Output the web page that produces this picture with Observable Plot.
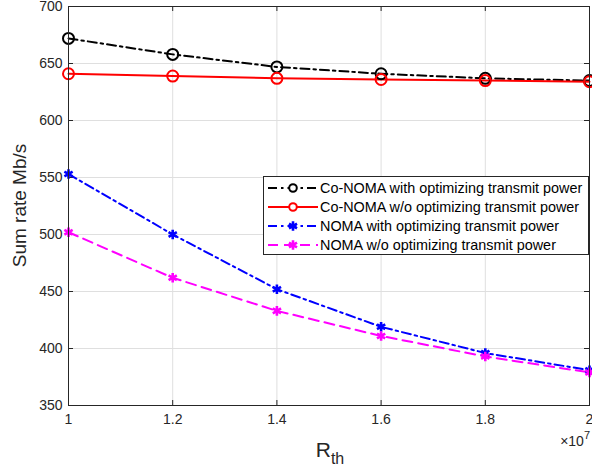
<!DOCTYPE html>
<html>
<head>
<meta charset="utf-8">
<script src="https://cdn.jsdelivr.net/npm/d3@7"></script>
<script src="https://cdn.jsdelivr.net/npm/@observablehq/plot@0.6"></script>
<style>
  html, body { margin: 0; padding: 0; background: #fff; }
  svg { font-family: "Liberation Sans", Arial, sans-serif; }
</style>
</head>
<body>
<div id="chart"></div>
<script>
const rth = [1.0, 1.2, 1.4, 1.6, 1.8, 2.0];
const coNomaOpt = [672, 658, 647, 641, 637, 635];
const coNomaFixed = [641, 639, 637, 636, 635, 634];
const nomaOpt = [553, 500, 452, 419, 396, 381];
const nomaFixed = [502, 462, 433, 411, 393, 379];
const xTicks = [1, 1.2, 1.4, 1.6, 1.8, 2];
const xTickLabels = ["1", "1.2", "1.4", "1.6", "1.8", "2"];
const yTicks = [350, 400, 450, 500, 550, 600, 650, 700];

const seriesNames = [
  "Co-NOMA with optimizing transmit power",
  "Co-NOMA w/o optimizing transmit power",
  "NOMA with optimizing transmit power",
  "NOMA w/o optimizing transmit power"
];
const seriesValues = [coNomaOpt, coNomaFixed, nomaOpt, nomaFixed];
const seriesStyle = [
  {color: "#000000", dash: "9,4,2.5,4", symbol: "circle"},
  {color: "#ff0000", dash: null, symbol: "circle"},
  {color: "#0000ff", dash: "9,4,2.5,4", symbol: "asterisk"},
  {color: "#ff00ff", dash: "10,6", symbol: "asterisk"}
];

const W = 592, H = 474;
const mL = 68, mR = 3, mT = 6, mB = 69;
const tickLenX = 5 / (W - mL - mR) * 1;       // 5px in x units
const tickLenY = 5 / (H - mT - mB) * 350;     // 5px in y units

const marks = [
  Plot.gridX(xTicks, {stroke: "#dfdfdf", strokeOpacity: 1, strokeWidth: 1}),
  Plot.gridY(yTicks, {stroke: "#dfdfdf", strokeOpacity: 1, strokeWidth: 1}),
  Plot.axisX(xTicks, {tickSize: 0, tickPadding: 9, fontSize: 14, fill: "#262626",
    tickFormat: (d, i) => xTickLabels[i]}),
  Plot.axisY(yTicks, {tickSize: 0, tickPadding: 6, fontSize: 14, fill: "#262626", label: null}),
  // inward ticks on all four sides
  Plot.ruleX(xTicks, {y1: 350, y2: 350 + tickLenY, stroke: "#262626"}),
  Plot.ruleX(xTicks, {y1: 700, y2: 700 - tickLenY, stroke: "#262626"}),
  Plot.ruleY(yTicks, {x1: 1, x2: 1 + tickLenX, stroke: "#262626"}),
  Plot.ruleY(yTicks, {x1: 2, x2: 2 - tickLenX, stroke: "#262626"}),
];

seriesValues.forEach((vals, si) => {
  const data = rth.map((x, i) => ({x, y: vals[i]}));
  const st = seriesStyle[si];
  marks.push(Plot.line(data, {x: "x", y: "y", stroke: st.color, strokeWidth: 2,
    strokeDasharray: st.dash, curve: "linear"}));
});
seriesValues.forEach((vals, si) => {
  const data = rth.map((x, i) => ({x, y: vals[i]}));
  const st = seriesStyle[si];
  if (st.symbol === "circle") {
    marks.push(Plot.dot(data, {x: "x", y: "y", r: 5.5, stroke: st.color, strokeWidth: 2, fill: "none", symbol: "circle"}));
  } else {
    marks.push(Plot.dot(data, {x: "x", y: "y", r: 4.5, stroke: st.color, strokeWidth: 2.6, symbol: "asterisk"}));
  }
});
marks.push(Plot.frame({stroke: "#262626", strokeWidth: 1}));

const chart = Plot.plot({
  width: W, height: H,
  marginLeft: mL, marginRight: mR, marginTop: mT, marginBottom: mB,
  x: {domain: [1, 2], label: null},
  y: {domain: [350, 700], label: null},
  style: {fontFamily: "'Liberation Sans', Arial, sans-serif", background: "#fff"},
  marks
});
document.getElementById("chart").appendChild(chart);

const svg = d3.select(chart);
// y label
svg.append("text")
  .attr("transform", `translate(26,${(mT + H - mB) / 2}) rotate(-90)`)
  .attr("text-anchor", "middle")
  .attr("font-size", 19).attr("fill", "#262626")
  .text("Sum rate Mb/s");
// x label R_th
const xl = svg.append("text")
  .attr("x", 330).attr("y", 457)
  .attr("text-anchor", "middle")
  .attr("font-size", 21).attr("fill", "#262626");
xl.append("tspan").text("R");
xl.append("tspan").attr("font-size", 16).attr("dy", 7).text("th");
// exponent
const ex = svg.append("text")
  .attr("x", 590).attr("y", 446)
  .attr("text-anchor", "end")
  .attr("font-size", 14).attr("fill", "#262626");
ex.append("tspan").text("\u00d710");
ex.append("tspan").attr("font-size", 11).attr("dy", -7).text("7");

// legend
const lg = svg.append("g").attr("text-anchor", "start");
lg.append("rect").attr("x", 263.5).attr("y", 176.5).attr("width", 325).attr("height", 78)
  .attr("fill", "#fff").attr("stroke", "#262626").attr("stroke-width", 1);
seriesNames.forEach((name, i) => {
  const st = seriesStyle[i];
  const yy = 188 + i * 19;
  lg.append("line").attr("x1", 268).attr("x2", 318).attr("y1", yy).attr("y2", yy)
    .attr("stroke", st.color).attr("stroke-width", 2)
    .attr("stroke-dasharray", st.dash);
  if (st.symbol === "circle") {
    lg.append("circle").attr("cx", 293).attr("cy", yy).attr("r", 3.8)
      .attr("fill", "#fff").attr("stroke", st.color).attr("stroke-width", 2);
  } else {
    lg.append("path").attr("transform", `translate(293,${yy})`)
      .attr("d", d3.symbol(d3.symbolAsterisk, 60)())
      .attr("fill", "none").attr("stroke", st.color).attr("stroke-width", 2.6);
  }
  lg.append("text").attr("x", 320).attr("y", yy + 5).attr("font-size", 14.4)
    .attr("text-anchor", "start")
    .attr("fill", "#000").text(name);
});
</script>
</body>
</html>
